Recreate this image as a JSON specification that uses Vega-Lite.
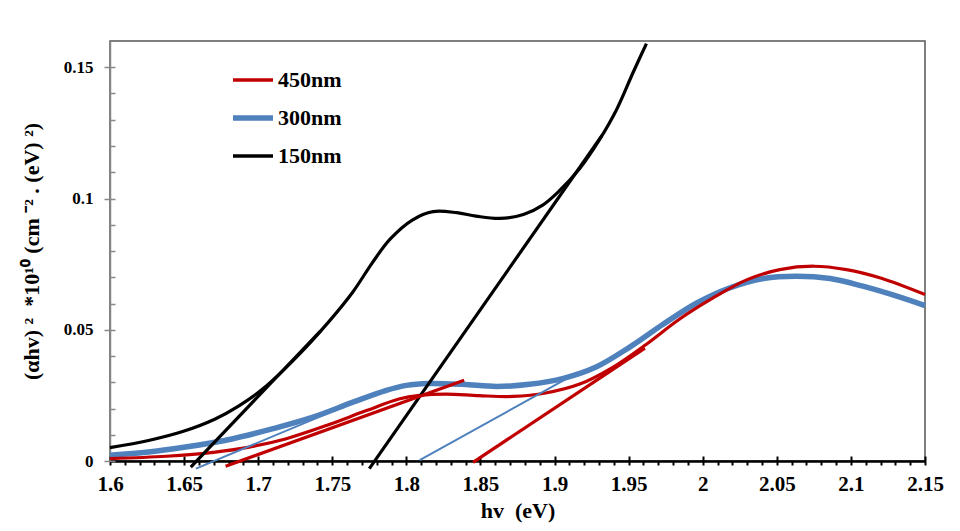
{
  "$schema": "https://vega.github.io/schema/vega-lite/v6.json",
  "width": 815,
  "height": 420,
  "autosize": "none",
  "padding": {"left": 110, "top": 41, "right": 35, "bottom": 70},
  "background": "white",
  "config": {
    "view": {"stroke": "#555555", "strokeWidth": 1.5},
    "font": "Liberation Serif"
  },
  "datasets": {
    "curves": [
      {"series": "150nm", "x": 1.600, "y": 0.0051},
      {"series": "150nm", "x": 1.626, "y": 0.0078},
      {"series": "150nm", "x": 1.649, "y": 0.0112},
      {"series": "150nm", "x": 1.671, "y": 0.0160},
      {"series": "150nm", "x": 1.687, "y": 0.0210},
      {"series": "150nm", "x": 1.703, "y": 0.0274},
      {"series": "150nm", "x": 1.7255, "y": 0.0394},
      {"series": "150nm", "x": 1.748, "y": 0.0533},
      {"series": "150nm", "x": 1.764, "y": 0.0645},
      {"series": "150nm", "x": 1.777, "y": 0.0755},
      {"series": "150nm", "x": 1.789, "y": 0.0845},
      {"series": "150nm", "x": 1.804, "y": 0.0918},
      {"series": "150nm", "x": 1.818, "y": 0.0950},
      {"series": "150nm", "x": 1.834, "y": 0.0946},
      {"series": "150nm", "x": 1.847, "y": 0.0933},
      {"series": "150nm", "x": 1.863, "y": 0.0924},
      {"series": "150nm", "x": 1.879, "y": 0.0939},
      {"series": "150nm", "x": 1.892, "y": 0.0975},
      {"series": "150nm", "x": 1.903, "y": 0.1028},
      {"series": "150nm", "x": 1.917, "y": 0.1114},
      {"series": "150nm", "x": 1.930, "y": 0.1221},
      {"series": "150nm", "x": 1.942, "y": 0.1340},
      {"series": "150nm", "x": 1.953, "y": 0.1480},
      {"series": "150nm", "x": 1.962, "y": 0.1590},
      {"series": "300nm", "x": 1.600, "y": 0.0022},
      {"series": "300nm", "x": 1.626, "y": 0.0034},
      {"series": "300nm", "x": 1.651, "y": 0.0053},
      {"series": "300nm", "x": 1.683, "y": 0.0085},
      {"series": "300nm", "x": 1.710, "y": 0.0123},
      {"series": "300nm", "x": 1.737, "y": 0.0167},
      {"series": "300nm", "x": 1.764, "y": 0.0224},
      {"series": "300nm", "x": 1.786, "y": 0.0268},
      {"series": "300nm", "x": 1.800, "y": 0.0288},
      {"series": "300nm", "x": 1.815, "y": 0.0295},
      {"series": "300nm", "x": 1.838, "y": 0.0292},
      {"series": "300nm", "x": 1.861, "y": 0.0284},
      {"series": "300nm", "x": 1.883, "y": 0.0292},
      {"series": "300nm", "x": 1.906, "y": 0.0315},
      {"series": "300nm", "x": 1.928, "y": 0.0358},
      {"series": "300nm", "x": 1.951, "y": 0.0435},
      {"series": "300nm", "x": 1.973, "y": 0.0520},
      {"series": "300nm", "x": 1.996, "y": 0.0602},
      {"series": "300nm", "x": 2.018, "y": 0.0659},
      {"series": "300nm", "x": 2.041, "y": 0.0695},
      {"series": "300nm", "x": 2.063, "y": 0.0704},
      {"series": "300nm", "x": 2.086, "y": 0.0695},
      {"series": "300nm", "x": 2.108, "y": 0.0666},
      {"series": "300nm", "x": 2.131, "y": 0.0628},
      {"series": "300nm", "x": 2.150, "y": 0.0592},
      {"series": "450nm", "x": 1.600, "y": 0.0009},
      {"series": "450nm", "x": 1.638, "y": 0.0018},
      {"series": "450nm", "x": 1.671, "y": 0.0034},
      {"series": "450nm", "x": 1.694, "y": 0.0053},
      {"series": "450nm", "x": 1.719, "y": 0.0085},
      {"series": "450nm", "x": 1.746, "y": 0.0135},
      {"series": "450nm", "x": 1.773, "y": 0.0192},
      {"series": "450nm", "x": 1.795, "y": 0.0236},
      {"series": "450nm", "x": 1.809, "y": 0.0250},
      {"series": "450nm", "x": 1.827, "y": 0.0255},
      {"series": "450nm", "x": 1.849, "y": 0.0249},
      {"series": "450nm", "x": 1.872, "y": 0.0246},
      {"series": "450nm", "x": 1.894, "y": 0.0259},
      {"series": "450nm", "x": 1.917, "y": 0.0293},
      {"series": "450nm", "x": 1.939, "y": 0.0356},
      {"series": "450nm", "x": 1.962, "y": 0.0445},
      {"series": "450nm", "x": 1.984, "y": 0.0539},
      {"series": "450nm", "x": 2.007, "y": 0.0621},
      {"series": "450nm", "x": 2.030, "y": 0.0691},
      {"series": "450nm", "x": 2.052, "y": 0.0729},
      {"series": "450nm", "x": 2.075, "y": 0.0742},
      {"series": "450nm", "x": 2.097, "y": 0.0729},
      {"series": "450nm", "x": 2.120, "y": 0.0697},
      {"series": "450nm", "x": 2.150, "y": 0.0634}
    ],
    "tangents": [
      {"series": "150nm", "seg": "b1", "x": 1.6545, "y": -0.0023},
      {"series": "150nm", "seg": "b1", "x": 1.742, "y": 0.0495},
      {"series": "150nm", "seg": "b2", "x": 1.775, "y": -0.0029},
      {"series": "150nm", "seg": "b2", "x": 1.932, "y": 0.124},
      {"series": "300nm", "seg": "u1", "x": 1.658, "y": -0.0029},
      {"series": "300nm", "seg": "u1", "x": 1.786, "y": 0.0274},
      {"series": "300nm", "seg": "u2", "x": 1.809, "y": 0.0003},
      {"series": "300nm", "seg": "u2", "x": 1.915, "y": 0.0335},
      {"series": "450nm", "seg": "r1", "x": 1.678, "y": -0.002},
      {"series": "450nm", "seg": "r1", "x": 1.839, "y": 0.0308},
      {"series": "450nm", "seg": "r2", "x": 1.845, "y": -0.0005},
      {"series": "450nm", "seg": "r2", "x": 1.961, "y": 0.043}
    ]
  },
  "layer": [
    {
      "data": {"name": "curves"},
      "mark": {"type": "line", "interpolate": "catmull-rom", "clip": false},
      "encoding": {
        "x": {
          "field": "x", "type": "quantitative",
          "scale": {"domain": [1.6, 2.15], "nice": false, "zero": false},
          "axis": {
            "orient": "bottom",
            "values": [1.6, 1.65, 1.7, 1.75, 1.8, 1.85, 1.9, 1.95, 2, 2.05, 2.1, 2.15],
            "format": "~g",
            "grid": false,
            "domainColor": "black", "domainWidth": 2.5,
            "tickColor": "black", "tickWidth": 2, "tickSize": -5,
            "labelFont": "Liberation Serif", "labelFontSize": 21, "labelFontWeight": "bold", "labelColor": "black",
            "labelPadding": 17, "labelFlush": false, "labelOverlap": false,
            "title": "hv\u00a0\u00a0(eV)",
            "titleFont": "Liberation Serif", "titleFontSize": 22, "titleFontWeight": "bold", "titleColor": "black",
            "titlePadding": 6
          }
        },
        "y": {
          "field": "y", "type": "quantitative",
          "scale": {"domain": [0, 0.16], "nice": false},
          "axis": {
            "orient": "left",
            "values": [0, 0.05, 0.1, 0.15],
            "format": "~g",
            "grid": false,
            "domainColor": "#888888", "domainWidth": 1.5,
            "tickColor": "#888888", "tickWidth": 1.5, "tickSize": 6,
            "labelFont": "Liberation Serif", "labelFontSize": 17, "labelFontWeight": "bold", "labelColor": "black",
            "labelPadding": 11,
            "title": "(αhv)\u00a0²\u00a0\u00a0*10¹⁰ (cm\u00a0⁻²\u00a0. (eV)\u00a0²)",
            "titleFont": "Liberation Serif", "titleFontSize": 22, "titleFontWeight": "bold", "titleColor": "black",
            "titlePadding": 20
          }
        },
        "color": {
          "field": "series", "type": "nominal",
          "scale": {"domain": ["450nm", "300nm", "150nm"], "range": ["#C00000", "#4F81BD", "#000000"]},
          "legend": {
            "title": null, "orient": "none", "legendX": 132, "legendY": 28,
            "symbolType": "stroke", "symbolSize": 1600, "symbolStrokeWidth": 3.5,
            "labelFont": "Liberation Serif", "labelFontSize": 22, "labelFontWeight": "bold", "labelColor": "black",
            "labelOffset": 14, "rowPadding": 16, "padding": 0,
            "encode": {
              "symbols": {"update": {"strokeWidth": {"signal": "datum.label === '300nm' ? 5.5 : 3.5"}}}
            }
          }
        },
        "strokeWidth": {
          "condition": {"test": "datum.series === '300nm'", "value": 5.5},
          "value": 3.2
        }
      }
    },
    {
      "data": {"name": "tangents"},
      "transform": [{"filter": "datum.series === '300nm'"}],
      "mark": {"type": "line", "strokeWidth": 2, "clip": false},
      "encoding": {
        "x": {
          "field": "x", "type": "quantitative",
          "axis": {
            "orient": "bottom",
            "values": [1.6,1.61,1.62,1.63,1.64,1.65,1.66,1.67,1.68,1.69,1.7,1.71,1.72,1.73,1.74,1.75,1.76,1.77,1.78,1.79,1.8,1.81,1.82,1.83,1.84,1.85,1.86,1.87,1.88,1.89,1.9,1.91,1.92,1.93,1.94,1.95,1.96,1.97,1.98,1.99,2,2.01,2.02,2.03,2.04,2.05,2.06,2.07,2.08,2.09,2.1,2.11,2.12,2.13,2.14,2.15],
            "labels": false, "domain": false, "grid": false, "title": null,
            "tickColor": "black", "tickWidth": 2, "tickSize": 4
          }
        },
        "y": {
          "field": "y", "type": "quantitative",
          "axis": {
            "orient": "left",
            "values": [0,0.01,0.02,0.03,0.04,0.05,0.06,0.07,0.08,0.09,0.1,0.11,0.12,0.13,0.14,0.15],
            "labels": false, "domain": false, "grid": false, "title": null,
            "tickColor": "#888888", "tickWidth": 1.5, "tickSize": -5
          }
        },
        "color": {"field": "series", "type": "nominal", "legend": null},
        "detail": {"field": "seg"}
      }
    },
    {
      "data": {"name": "tangents"},
      "transform": [{"filter": "datum.series !== '300nm'"}],
      "mark": {"type": "line", "strokeWidth": 3.2, "clip": false},
      "encoding": {
        "x": {"field": "x", "type": "quantitative", "axis": null},
        "y": {"field": "y", "type": "quantitative", "axis": null},
        "color": {"field": "series", "type": "nominal", "legend": null},
        "detail": {"field": "seg"}
      }
    }
  ],
  "resolve": {"axis": {"x": "independent", "y": "independent"}}
}
